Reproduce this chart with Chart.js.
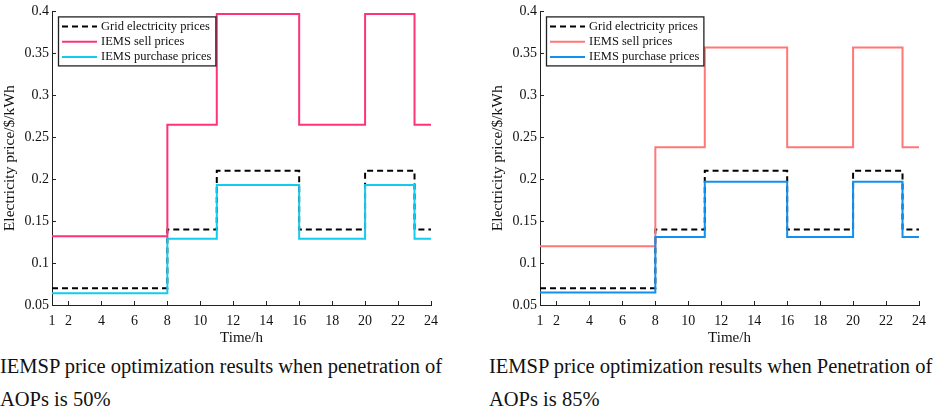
<!DOCTYPE html>
<html>
<head>
<meta charset="utf-8">
<script src="https://cdn.jsdelivr.net/npm/chart.js@4/dist/chart.umd.min.js"></script>
<style>
  body { margin: 0; background: #fff; width: 934px; height: 409px; overflow: hidden; }
  .panel { position: absolute; top: 0; width: 467px; height: 409px; }
  .caption { position: absolute; top: 350px; font-family: 'Liberation Serif', 'Times New Roman', serif; font-size: 20.5px; line-height: 33px; color: #111; white-space: nowrap; }
</style>
</head>
<body>
<div class="panel" style="left:0">
  <canvas id="chartLeft" width="467" height="347"></canvas>
  <div class="caption" style="left:0">IEMSP price optimization results when penetration of<br>AOPs is 50%</div>
</div>
<div class="panel" style="left:467px">
  <canvas id="chartRight" width="467" height="347"></canvas>
  <div class="caption" style="left:22px">IEMSP price optimization results when Penetration of<br>AOPs is 85%</div>
</div>
<script>
// 시간 (1~24h)
var hours = [1,2,3,4,5,6,7,8,9,10,11,12,13,14,15,16,17,18,19,20,21,22,23,24];
var xTickLabels = [1,2,4,6,8,10,12,14,16,18,20,22,24];
var yTickLabels = [0.05,0.1,0.15,0.2,0.25,0.3,0.35,0.4];

// 계통 전기요금 (두 그래프 공통)
var gridPrices = [0.07,0.07,0.07,0.07,0.07,0.07,0.07,0.07,0.14,0.14,0.14,0.21,0.21,0.21,0.21,0.21,0.14,0.14,0.14,0.14,0.21,0.21,0.21,0.14];

// 보급률 50%
var sellPrices50 = [0.132,0.132,0.132,0.132,0.132,0.132,0.132,0.132,0.265,0.265,0.265,0.397,0.397,0.397,0.397,0.397,0.265,0.265,0.265,0.265,0.397,0.397,0.397,0.265];
var buyPrices50 = [0.064,0.064,0.064,0.064,0.064,0.064,0.064,0.064,0.129,0.129,0.129,0.193,0.193,0.193,0.193,0.193,0.129,0.129,0.129,0.129,0.193,0.193,0.193,0.129];

// 보급률 85%
var sellPrices85 = [0.12,0.12,0.12,0.12,0.12,0.12,0.12,0.12,0.238,0.238,0.238,0.357,0.357,0.357,0.357,0.357,0.238,0.238,0.238,0.238,0.357,0.357,0.357,0.238];
var buyPrices85 = [0.065,0.065,0.065,0.065,0.065,0.065,0.065,0.065,0.131,0.131,0.131,0.197,0.197,0.197,0.197,0.197,0.131,0.131,0.131,0.131,0.197,0.197,0.197,0.131];

var seriesNames = ['Grid electricity prices', 'IEMS sell prices', 'IEMS purchase prices'];
var FONT = "'Liberation Serif', 'Times New Roman', serif";

// 안쪽 눈금 + 범례 상자
var innerTicksAndLegend = {
    id: 'innerTicksAndLegend',
    afterDraw: function (chart) {
        var ctx = chart.ctx;
        var xs = chart.scales.x, ys = chart.scales.y;
        var area = chart.chartArea;
        ctx.save();
        ctx.strokeStyle = '#222';
        ctx.lineWidth = 1;
        ctx.beginPath();
        xTickLabels.forEach(function (v) {
            var px = Math.round(xs.getPixelForValue(v)) + 0.5;
            ctx.moveTo(px, area.bottom);
            ctx.lineTo(px, area.bottom - 4);
        });
        yTickLabels.forEach(function (v) {
            var py = Math.round(ys.getPixelForValue(v)) + 0.5;
            ctx.moveTo(area.left, py);
            ctx.lineTo(area.left + 4, py);
        });
        ctx.stroke();

        // 범례
        ctx.font = '12.5px ' + FONT;
        var boxX = area.left + 6, boxY = area.top + 5;
        var sampleLen = 35, textX = boxX + 43;
        var maxW = 0;
        chart.data.datasets.forEach(function (ds) {
            maxW = Math.max(maxW, ctx.measureText(ds.label).width);
        });
        var boxW = textX - boxX + maxW + 4, boxH = 49;
        ctx.fillStyle = '#fff';
        ctx.fillRect(boxX, boxY, boxW, boxH);
        ctx.lineWidth = 1.3;
        ctx.strokeStyle = '#222';
        ctx.strokeRect(boxX + 0.5, boxY + 0.5, boxW, boxH);
        chart.data.datasets.forEach(function (ds, i) {
            var ly = boxY + 10 + i * 15.3;
            ctx.beginPath();
            ctx.strokeStyle = ds.borderColor;
            ctx.lineWidth = ds.borderWidth;
            ctx.setLineDash(ds.borderDash || []);
            ctx.moveTo(boxX + 4, ly);
            ctx.lineTo(boxX + 4 + sampleLen, ly);
            ctx.stroke();
            ctx.setLineDash([]);
            ctx.fillStyle = '#111';
            ctx.textBaseline = 'middle';
            ctx.fillText(ds.label, textX, ly);
        });
        ctx.restore();
    }
};

function makeChart(canvasId, sell, buy, sellColor, buyColor, padLeft, padRight) {
    var ctx = document.getElementById(canvasId).getContext('2d');
    return new Chart(ctx, {
        type: 'line',
        data: {
            labels: hours,
            datasets: [{
                label: seriesNames[0],
                data: gridPrices,
                borderColor: '#000',
                borderWidth: 2,
                borderDash: [6, 4],
                stepped: 'after',
                pointRadius: 0,
                order: 3
            }, {
                label: seriesNames[1],
                data: sell,
                borderColor: sellColor,
                borderWidth: 2,
                stepped: 'after',
                pointRadius: 0,
                order: 2
            }, {
                label: seriesNames[2],
                data: buy,
                borderColor: buyColor,
                borderWidth: 2,
                stepped: 'after',
                pointRadius: 0,
                order: 1
            }]
        },
        options: {
            responsive: false,
            animation: false,
            layout: { padding: { left: padLeft, right: padRight, top: 8, bottom: 0 } },
            plugins: { legend: { display: false }, tooltip: { enabled: false } },
            scales: {
                x: {
                    type: 'linear',
                    min: 1,
                    max: 24,
                    afterBuildTicks: function (scale) {
                        scale.ticks = xTickLabels.map(function (v) { return { value: v }; });
                    },
                    afterFit: function (scale) { scale.height = 42; },
                    grid: { display: false, drawTicks: false },
                    border: { display: true, color: '#222', width: 1 },
                    ticks: { color: '#111', font: { family: FONT, size: 14 }, padding: 8, maxRotation: 0, autoSkip: false },
                    title: { display: true, text: 'Time/h', color: '#111', font: { family: FONT, size: 15 }, padding: 0 }
                },
                y: {
                    min: 0.05,
                    max: 0.4,
                    afterBuildTicks: function (scale) {
                        scale.ticks = yTickLabels.map(function (v) { return { value: v }; });
                    },
                    afterFit: function (scale) { scale.width = 52; },
                    grid: { display: false, drawTicks: false },
                    border: { display: true, color: '#222', width: 1 },
                    ticks: { color: '#111', font: { family: FONT, size: 14 }, padding: 3, callback: function (v) { return String(v); } },
                    title: { display: true, text: 'Electricity price/$/kWh', color: '#111', font: { family: FONT, size: 15.5 }, padding: 1 }
                }
            }
        },
        plugins: [innerTicksAndLegend]
    });
}

makeChart('chartLeft', sellPrices50, buyPrices50, '#ff3377', '#11ccee', 0, 36);
makeChart('chartRight', sellPrices85, buyPrices85, '#ff7777', '#1090f0', 21, 14);
</script>
</body>
</html>
